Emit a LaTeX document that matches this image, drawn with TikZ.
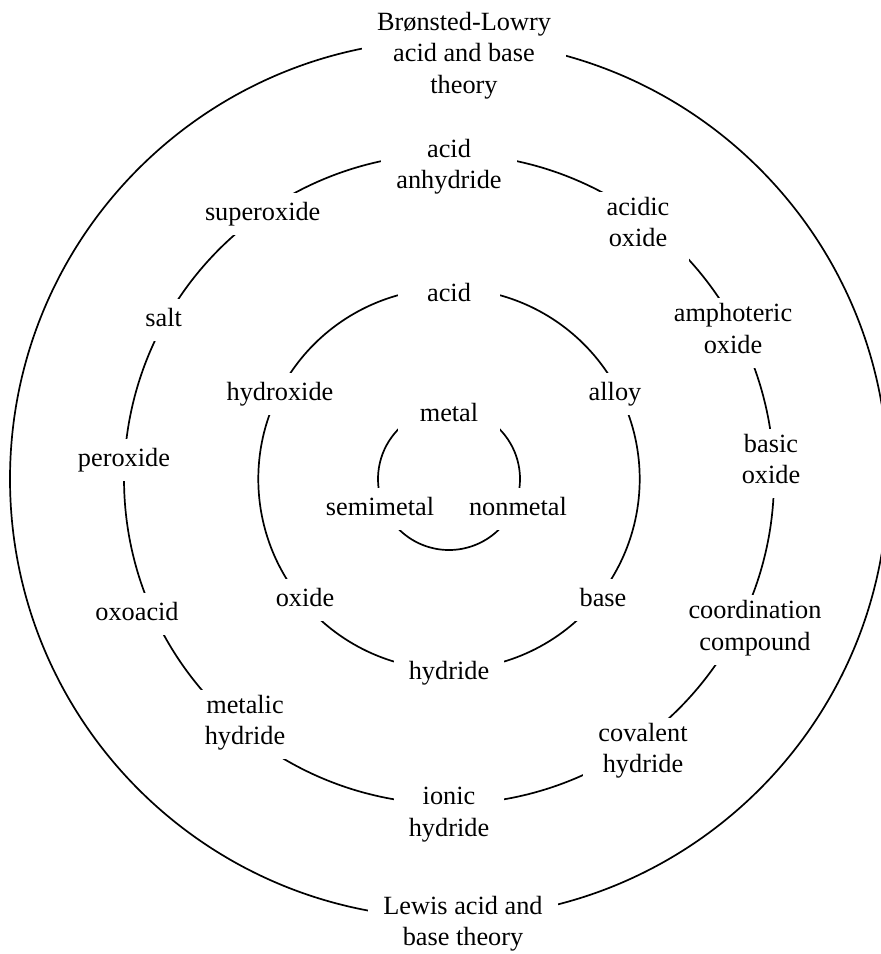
\documentclass[tikz,border=0pt]{standalone}
\usepackage{fontspec}
\newfontfamily\lblfamily{Liberation Serif}
\newcommand\lblfont{\lblfamily\fontsize{26.3}{31.6}\selectfont}
\pgfdeclarelayer{bg}
\pgfsetlayers{bg,main}
\begin{document}
\begin{tikzpicture}[x=1pt,y=-1pt,
  lbl/.style={fill=white, align=center, inner xsep=15pt, inner ysep=5.2pt,
    minimum width=101.5pt, font=\lblfont,
    execute at begin node=\strut, execute at end node=\strut},
  ring/.style={line width=1.7pt, draw=black}]
\useasboundingbox (0,0) rectangle (881,954);
\coordinate (O) at (449,479);
% ---- labels (nodes)
\node[lbl] (bl) at (464,57.6) {Brønsted-Lowry\\acid and base\\theory};
\node[lbl] (lw) at (463,925.5) {Lewis acid and\\base theory};
% ring 3
\node[lbl] (aa) at (449,168.8) {acid\\anhydride};
\node[lbl] (ao) at (638,226.8) {acidic\\oxide};
\node[lbl] (am) at (733,333) {amphoteric\\oxide};
\node[lbl] (bo) at (771,463.5) {basic\\oxide};
\node[lbl] (cc) at (755,630.2) {coordination\\compound};
\node[lbl] (ch) at (643,752.8) {covalent\\hydride};
\node[lbl] (ih) at (449,816.8) {ionic\\hydride};
\node[lbl] (mh) at (245,724.5) {metalic\\hydride};
\node[lbl] (ox) at (137,614) {oxoacid};
\node[lbl] (pe) at (124,460.4) {peroxide};
\node[lbl] (sa) at (163.7,319.7) {salt};
\node[lbl] (su) at (262.7,213.7) {superoxide};
% ring 2
\node[lbl] (ac) at (449,295.4) {acid};
\node[lbl] (al) at (615,393.7) {alloy};
\node[lbl] (ba) at (603,600) {base};
\node[lbl] (hy) at (449,672.7) {hydride};
\node[lbl] (od) at (305,600) {oxide};
\node[lbl] (hx) at (280,393.7) {hydroxide};
% ring 1
\node[lbl] (me) at (449,415.4) {metal};
\node[lbl] (sm) at (380,508.7) {semimetal};
\node[lbl] (nm) at (518,508.7) {nonmetal};
% ---- ring points of the nodes
\path (O) ++(-90:439) coordinate (bl-r);
\path (O) ++(90:439) coordinate (lw-r);
\path (O) ++(-90:325) coordinate (aa-r);
\path (O) ++(-53.3:325) coordinate (ao-r);
\path (O) ++(-27.7:325) coordinate (am-r);
\path (O) ++(-3:325) coordinate (bo-r);
\path (O) ++(25.5:325) coordinate (cc-r);
\path (O) ++(54.5:325) coordinate (ch-r);
\path (O) ++(90:325) coordinate (ih-r);
\path (O) ++(129.5:325) coordinate (mh-r);
\path (O) ++(156:325) coordinate (ox-r);
\path (O) ++(183.4:325) coordinate (pe-r);
\path (O) ++(209.4:325) coordinate (sa-r);
\path (O) ++(235.3:325) coordinate (su-r);
\path (O) ++(-90:190.7) coordinate (ac-r);
\path (O) ++(-27:190.7) coordinate (al-r);
\path (O) ++(39:190.7) coordinate (ba-r);
\path (O) ++(90:190.7) coordinate (hy-r);
\path (O) ++(141:190.7) coordinate (od-r);
\path (O) ++(207:190.7) coordinate (hx-r);
\path (O) ++(-90:71) coordinate (me-r);
\path (O) ++(24:71) coordinate (nm-r);
\path (O) ++(156:71) coordinate (sm-r);
% ---- connectors (arcs of the rings, hidden under the labels)
\begin{pgfonlayer}{bg}
\fill[white] (0,0) rectangle (881,954);
% outer ring
\draw[ring] (bl-r) arc[start angle=-90, end angle=90, radius=439];
\draw[ring] (lw-r) arc[start angle=90, end angle=270, radius=439];
% ring 3
\draw[ring] (aa-r) arc[start angle=-90, end angle=-53.3, radius=325];
\draw[ring] (ao-r) arc[start angle=-53.3, end angle=-27.7, radius=325];
\draw[ring] (am-r) arc[start angle=-27.7, end angle=-3, radius=325];
\draw[ring] (bo-r) arc[start angle=-3, end angle=25.5, radius=325];
\draw[ring] (cc-r) arc[start angle=25.5, end angle=54.5, radius=325];
\draw[ring] (ch-r) arc[start angle=54.5, end angle=90, radius=325];
\draw[ring] (ih-r) arc[start angle=90, end angle=129.5, radius=325];
\draw[ring] (mh-r) arc[start angle=129.5, end angle=156, radius=325];
\draw[ring] (ox-r) arc[start angle=156, end angle=183.4, radius=325];
\draw[ring] (pe-r) arc[start angle=183.4, end angle=209.4, radius=325];
\draw[ring] (sa-r) arc[start angle=209.4, end angle=235.3, radius=325];
\draw[ring] (su-r) arc[start angle=235.3, end angle=270, radius=325];
% ring 2
\draw[ring] (ac-r) arc[start angle=-90, end angle=-27, radius=190.7];
\draw[ring] (al-r) arc[start angle=-27, end angle=39, radius=190.7];
\draw[ring] (ba-r) arc[start angle=39, end angle=90, radius=190.7];
\draw[ring] (hy-r) arc[start angle=90, end angle=141, radius=190.7];
\draw[ring] (od-r) arc[start angle=141, end angle=207, radius=190.7];
\draw[ring] (hx-r) arc[start angle=207, end angle=270, radius=190.7];
% ring 1
\draw[ring] (me-r) arc[start angle=-90, end angle=24, radius=71];
\draw[ring] (nm-r) arc[start angle=24, end angle=156, radius=71];
\draw[ring] (sm-r) arc[start angle=156, end angle=270, radius=71];
\end{pgfonlayer}
\end{tikzpicture}
\end{document}
